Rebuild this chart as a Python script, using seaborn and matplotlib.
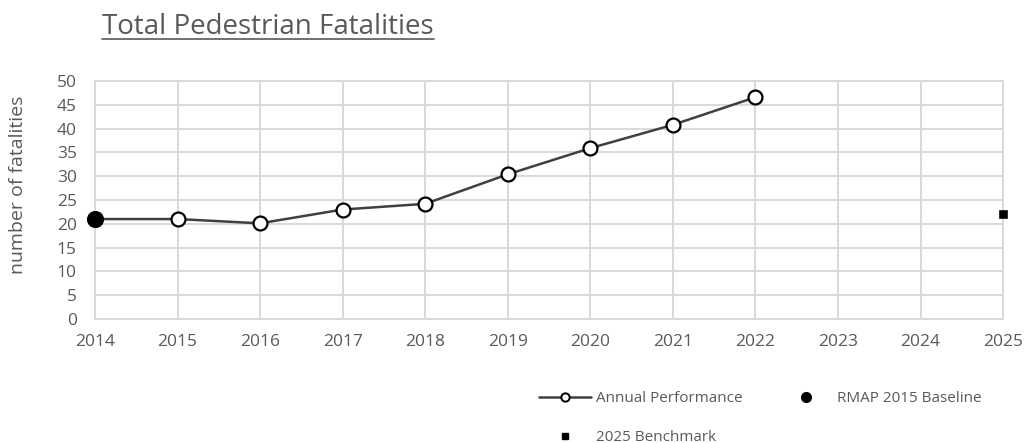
import matplotlib
matplotlib.use('Agg')
import matplotlib.pyplot as plt
import seaborn as sns
import pandas as pd
from matplotlib.lines import Line2D

# data
years = [2014, 2015, 2016, 2017, 2018, 2019, 2020, 2021, 2022]
annual = [21.0, 21.0, 20.1, 23.0, 24.2, 30.4, 35.9, 40.8, 46.6]
baseline_year = [2014]
baseline_val = [21.0]
bench_year = [2025]
bench_val = [22.0]
xticks = list(range(2014, 2026))
yticks = list(range(0, 55, 5))

sns.set_style('white')
plt.rcParams['font.family'] = ['Open Sans', 'DejaVu Sans']

text_col = '#595959'
grid_col = '#d9d9d9'
line_col = '#404040'

fig = plt.figure(figsize=(10.32, 4.43), dpi=100)
ax = fig.add_axes([0.092, 0.280, 0.880, 0.537])

df = pd.DataFrame({'year': years, 'value': annual})
sns.lineplot(data=df, x='year', y='value', ax=ax, color=line_col, linewidth=1.8,
             marker='o', markersize=10, markerfacecolor='white',
             markeredgecolor='black', markeredgewidth=1.6, clip_on=False, zorder=3)
sns.scatterplot(x=baseline_year, y=baseline_val, ax=ax, color='black', s=130,
                marker='o', edgecolor='black', clip_on=False, zorder=4)
sns.scatterplot(x=bench_year, y=bench_val, ax=ax, color='black', s=30,
                marker='s', edgecolor='black', clip_on=False, zorder=4)

ax.set_xlim(2014, 2025)
ax.set_ylim(0, 50)
ax.set_xticks(xticks)
ax.set_yticks(yticks)
ax.grid(True, color=grid_col, linewidth=1.4)
ax.set_axisbelow(True)
for side in ['top', 'right', 'left', 'bottom']:
    ax.spines[side].set_color(grid_col)
    ax.spines[side].set_linewidth(1.4)
ax.tick_params(axis='both', length=0, labelsize=12.5, labelcolor=text_col)
ax.tick_params(axis='y', pad=13)
ax.tick_params(axis='x', pad=11)
ax.set_xlabel('')
ax.set_ylabel('number of fatalities', fontsize=14, color=text_col)
ax.yaxis.set_label_coords(-0.075, 0.563)

# underlined title
title = fig.text(268 / 1032, 1 - 27 / 443, 'Total Pedestrian Fatalities',
                 ha='center', va='center', fontsize=20, color=text_col)
fig.canvas.draw()
bb = title.get_window_extent().transformed(fig.transFigure.inverted())
fig.add_artist(Line2D([bb.x0, bb.x1], [1 - 38.5 / 443, 1 - 38.5 / 443],
                      transform=fig.transFigure, color=text_col, linewidth=1.2))

handles = [
    Line2D([], [], color=line_col, linewidth=1.8, marker='o', markersize=6,
           markerfacecolor='white', markeredgecolor='black', markeredgewidth=1.4),
    Line2D([], [], linestyle='', marker='s', markersize=5, color='black'),
    Line2D([], [], linestyle='', marker='o', markersize=7, color='black'),
]
labels = ['Annual Performance', '2025 Benchmark', 'RMAP 2015 Baseline']
fig.legend(handles, labels, ncol=2, loc='upper left',
           bbox_to_anchor=(530 / 1032, 1 - 382 / 443), frameon=False,
           fontsize=11, labelcolor=text_col, handlelength=3.4,
           labelspacing=1.55, columnspacing=2.5, handletextpad=0.3,
           borderaxespad=0.2)

fig.savefig('out.png', dpi=100)
